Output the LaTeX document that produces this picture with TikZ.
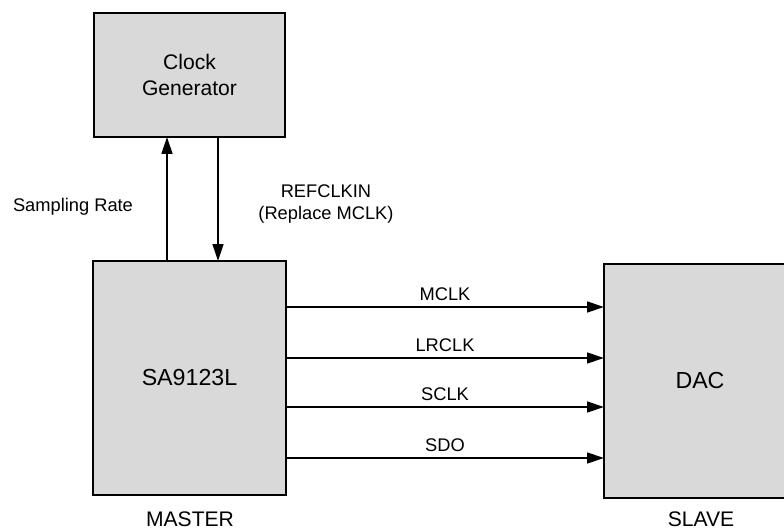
\documentclass[tikz,border=0pt]{standalone}
\usepackage{fontspec}
\setmainfont{Liberation Sans}
\usetikzlibrary{arrows.meta, positioning}
\definecolor{boxgray}{RGB}{217,217,217}

\begin{document}
\begin{tikzpicture}[
  x=0.025cm, y=-0.025cm,
  % Styles
  block/.style={rectangle, draw, fill=boxgray, line width=1.4pt, outer sep=0pt, align=center, font=\fontsize{16.5}{19}\selectfont},
  sig/.style={font=\fontsize{13}{15.5}\selectfont, align=center, inner sep=1pt},
  tag/.style={font=\fontsize{15}{18}\selectfont, inner sep=0pt},
  arr/.style={-{Triangle[length=12pt, width=7.8pt]}, line width=0.9pt},
]
  \useasboundingbox (0,0) rectangle (784,531);

  % Blocks
  \node[block, minimum width=4.775cm, minimum height=3.1cm, font=\fontsize{15}{19}\selectfont] (clk) at (189.5,75) {Clock\\Generator};
  \node[block, minimum width=4.825cm, minimum height=5.85cm] (master) at (189.5,378) {SA9123L};
  \node[block, minimum width=4.8cm, minimum height=5.85cm] (dac) at (700,381) {DAC};

  % Role tags
  \node[tag] (mtag) at (190,519) {MASTER};
  \node[tag] (stag) at (701,519) {SLAVE};

  % Clock generator links
  \draw[arr] ([xshift=-0.5625cm]master.north) -- ([xshift=-0.5625cm]clk.south);
  \draw[arr] ([xshift=0.7125cm]clk.south) -- ([xshift=0.7125cm]master.north);
  \node[sig] (srate) at (73,207) {Sampling Rate};
  \node[sig] (refclk) at (326,204) {REFCLKIN\\(Replace MCLK)};

  % Audio interface
  \foreach \name/\yy in {MCLK/307, LRCLK/358, SCLK/407, SDO/458}
    \draw[arr] (master.east |- 0,\yy) -- node[sig, above=3pt, pos=0.5] {\name} (dac.west |- 0,\yy);

\end{tikzpicture}
\end{document}
